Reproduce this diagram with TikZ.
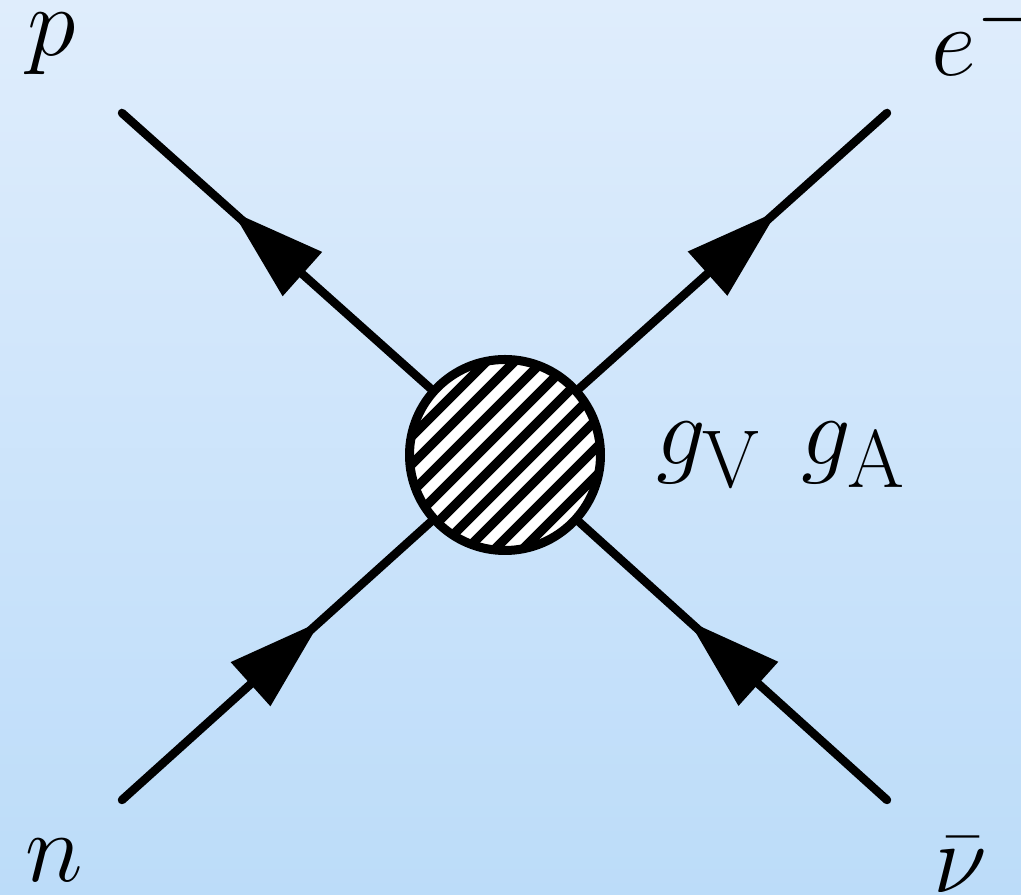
\documentclass[tikz,border=0pt]{standalone}
\usepackage{tikz}
\usetikzlibrary{
  arrows.meta,
  decorations.markings
}
\definecolor{skytop}{RGB}{223,237,252}
\definecolor{skybottom}{RGB}{188,220,249}
\tikzset{
  fermion/.style={line width=0.085cm, line cap=round,
    postaction={decorate, decoration={markings,
      mark=at position 0.645 with {\arrow{Triangle[length=9.4mm, width=5.7mm]}}}}},
  label/.style={font=\Huge, scale=1.125, inner sep=0pt}
}

\begin{document}
\begin{tikzpicture}
  \useasboundingbox (0,0) rectangle (10.21,8.95);
  \shade[top color=skytop, bottom color=skybottom] (0,0) rectangle (10.21,8.95);
  \node[circle, draw, fill=white, line width=0.09cm, minimum size=1.91cm, inner sep=0pt] (blob) at (5.05,4.40) {};
  \coordinate (pend) at (1.22,7.82);
  \coordinate (eend) at (8.87,7.82);
  \coordinate (nend) at (1.22,0.95);
  \coordinate (nuend) at (8.87,0.95);
  \draw[fermion] (blob) -- (pend);
  \draw[fermion] (blob) -- (eend);
  \draw[fermion] (nend) -- (blob);
  \draw[fermion] (nuend) -- (blob);
  \begin{scope}[shift={(blob.center)}]
    \clip (0,0) circle (0.92);
    \foreach \k in {-5,...,5}
      \draw[line width=0.095cm] (\k*0.28-1.5,-1.5) -- ++(3,3);
  \end{scope}
  \node[label, anchor=base west] (plabel) at (0.27,8.39) {$p$};
  \node[label, anchor=base west] (elabel) at (9.31,8.19) {$e^-$};
  \node[label, anchor=base west] (nlabel) at (0.25,0.13) {$n$};
  \node[label, anchor=base west] (nulabel) at (9.33,0.02) {$\bar\nu$};
  \node[label, anchor=base west] (couplings) at (6.56,4.30) {$g_{\rm V}\mkern7mu g_{\rm A}$};
\end{tikzpicture}
\end{document}
